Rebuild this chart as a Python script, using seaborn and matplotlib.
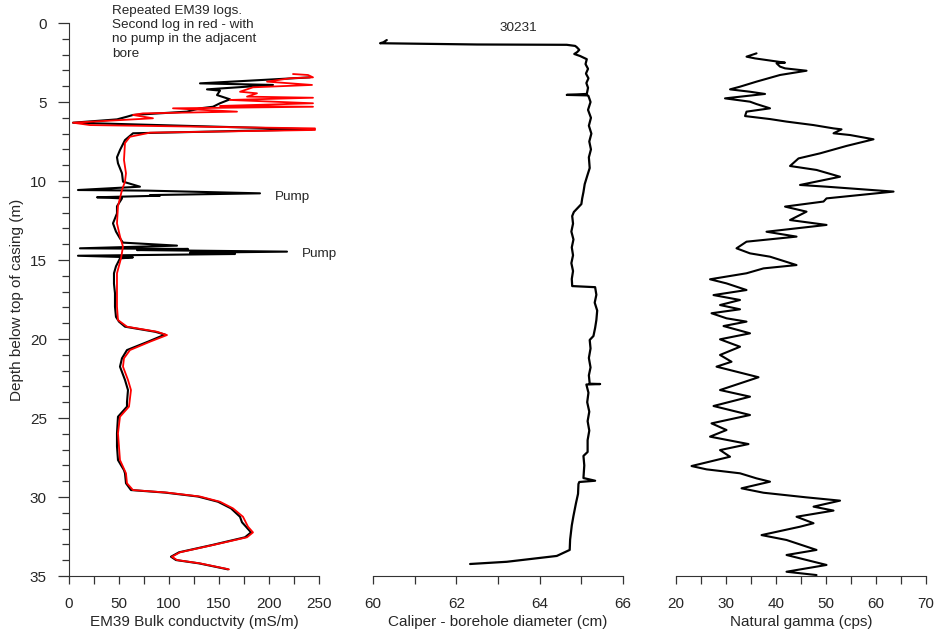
import matplotlib
matplotlib.use("Agg")
import matplotlib.pyplot as plt
from matplotlib.ticker import MultipleLocator
import seaborn as sns
import pandas as pd

# ---------------- data ----------------
# EM39 first log (black)
em1_depth = [3.44, 3.82, 3.92, 4.20, 4.28, 4.56, 4.83, 5.08, 5.30, 5.40, 5.61, 5.82, 5.93,
             6.10, 6.31, 6.73, 6.98, 7.41, 8.04, 8.50, 8.88, 9.51, 10.04, 10.36, 10.57,
             10.61, 10.78, 10.89, 10.93, 11.03, 11.10, 11.6, 12.05, 12.68, 13.2, 13.63,
             13.9, 14.09, 14.26, 14.30, 14.37, 14.47, 14.54, 14.62, 14.73, 14.83, 14.90,
             15.4, 15.84, 16.5, 17.1, 17.95, 18.6, 18.9, 19.22, 19.54, 19.72, 20.17, 20.7,
             21.22, 21.75, 22.59, 23.23, 24.0, 24.28, 24.92, 25.97, 26.8, 27.66, 28.3,
             28.5, 29.13, 29.56, 29.72, 29.97, 30.3, 30.72, 31.25, 31.6, 31.88, 32.24,
             32.55, 33.04, 33.5, 33.78, 33.99, 34.2, 34.58]
em1_val = [241, 131, 204, 138, 151, 148, 161, 151, 144, 131, 118, 64, 58,
           48, 4, 243, 64, 56, 51, 48, 49, 53, 54, 71, 9,
           79, 191, 81, 91, 28, 53, 48, 48, 44, 47, 51,
           54, 108, 11, 119, 68, 218, 121, 166, 9, 64, 51,
           47, 45, 45, 46, 46, 47, 50, 56, 86, 96, 79, 58,
           53, 51, 56, 59, 58, 58, 49, 48, 48, 49, 55,
           56, 57, 62, 96, 129, 149, 162, 171, 173, 177, 182,
           176, 143, 110, 102, 107, 130, 159]

# EM39 second log (red)
em2_depth = [3.23, 3.29, 3.44, 3.50, 3.71, 3.92, 4.07, 4.35, 4.45, 4.66, 4.73, 4.87, 5.08,
             5.25, 5.30, 5.40, 5.61, 5.72, 5.82, 6.03, 6.31, 6.46, 6.67, 6.77, 6.94, 7.2,
             7.6, 8.67, 9.51, 10.04, 10.57, 11.6, 12.68, 13.5, 14.16, 14.9, 15.84, 17.1,
             17.95, 18.8, 19.22, 19.54, 19.75, 20.17, 20.7, 21.22, 21.75, 22.59, 23.23,
             24.28, 24.92, 25.97, 27.66, 28.5, 29.13, 29.56, 29.72, 29.97, 30.3, 30.72,
             31.25, 31.88, 32.24, 32.55, 33.04, 33.5, 33.78, 33.99, 34.2, 34.58]
em2_val = [224, 239, 244, 221, 198, 243, 184, 171, 188, 178, 244, 161, 244,
           151, 244, 104, 168, 74, 64, 84, 4, 21, 246, 246, 81, 61,
           56, 55, 57, 56, 53, 49, 48, 51, 54, 52, 48, 48,
           48, 49, 58, 88, 98, 81, 61, 55, 54, 59, 62,
           60, 51, 49, 51, 57, 58, 64, 98, 131, 151, 164,
           174, 179, 184, 178, 144, 111, 103, 108, 131, 160]

# Caliper
cal_depth = [1.08, 1.22, 1.28, 1.36, 1.38, 1.45, 1.53, 1.70, 1.84, 1.96, 2.09, 2.29, 2.6,
             2.9, 3.2, 3.5, 3.8, 4.1, 4.49, 4.55, 4.58, 4.62, 5.0, 5.5, 6.0, 6.5, 7.0, 7.5,
             8.0, 8.5, 9.18, 9.68, 10.2, 10.7, 11.1, 11.46, 11.96, 12.22, 12.7, 13.2, 13.7,
             14.2, 14.7, 15.2, 15.7, 16.2, 16.65, 16.72, 17.2, 17.7, 18.2, 18.8, 19.3,
             19.81, 20.06, 20.6, 21.2, 21.8, 22.3, 22.83, 22.85, 22.88, 23.4, 24.0, 24.6,
             25.2, 25.8, 26.4, 27.15, 27.4, 28.0, 28.8, 28.97, 29.05, 29.18, 29.8, 30.4,
             31.2, 31.8, 32.7, 33.35, 33.73, 34.1, 34.24]
cal_val = [60.33, 60.25, 60.17, 62.5, 64.65, 64.85, 64.89, 64.95, 64.9, 64.83, 64.97, 65.13, 65.10,
           65.16, 65.11, 65.17, 65.12, 65.16, 65.13, 64.65, 65.15, 65.17, 65.22, 65.16, 65.23, 65.18, 65.24, 65.19,
           65.23, 65.18, 65.20, 65.14, 65.08, 65.05, 65.02, 65.0, 64.82, 64.78, 64.80, 64.76, 64.81,
           64.77, 64.80, 64.76, 64.80, 64.77, 64.78, 65.33, 65.36, 65.32, 65.38, 65.36, 65.33,
           65.29, 65.2, 65.22, 65.18, 65.22, 65.18, 65.2, 65.45, 65.12, 65.17, 65.14, 65.19,
           65.15, 65.19, 65.15, 65.15, 65.05, 65.07, 65.05, 65.33, 64.95, 64.93, 64.92, 64.87,
           64.81, 64.77, 64.73, 64.72, 64.41, 63.21, 62.33]

# Natural gamma
gam_depth = [1.92, 2.13, 2.24, 2.51, 2.55, 2.76, 2.87, 3.02, 3.29, 3.71, 4.03, 4.20, 4.35,
             4.49, 4.77, 4.98, 5.13, 5.40, 5.61, 5.89, 6.08, 6.24, 6.46, 6.67, 6.73, 6.98,
             7.09, 7.36, 7.78, 8.25, 8.57, 9.05, 9.30, 9.73, 10.25, 10.36, 10.67, 11.10,
             11.3, 11.62, 11.94, 12.47, 12.78, 13.21, 13.52, 13.84, 14.26, 14.58, 14.79,
             15.32, 15.53, 15.84, 16.22, 16.48, 16.90, 17.22, 17.53, 17.85, 18.12, 18.37,
             18.69, 18.90, 19.18, 19.64, 20.02, 20.49, 21.01, 21.44, 21.75, 22.42, 23.23,
             23.65, 24.24, 24.81, 25.34, 25.76, 26.18, 26.65, 27.03, 27.45, 28.04, 28.25,
             28.50, 28.82, 29.03, 29.45, 29.73, 30.02, 30.23, 30.61, 30.86, 31.25, 31.66,
             31.88, 32.41, 32.72, 33.35, 33.67, 34.30, 34.73, 34.94]
gam_val = [36.1, 34.1, 35.8, 41.8, 40.1, 40.8, 41.8, 46.1, 40.8, 36.1, 32.8, 30.8, 34.8,
           37.8, 29.8, 34.8, 36.1, 38.8, 34.1, 33.8, 38.8, 42.1, 47.5, 51.5, 53.1, 51.5,
           54.8, 59.5, 54.1, 48.8, 44.5, 42.8, 48.1, 52.8, 44.8, 50.1, 63.5, 50.1,
           49.5, 41.8, 46.1, 42.8, 50.1, 38.1, 44.1, 34.1, 32.1, 34.8, 38.8,
           44.1, 37.5, 34.1, 26.8, 30.1, 34.1, 27.5, 32.8, 28.8, 32.8, 27.1,
           30.1, 34.1, 29.5, 34.8, 28.8, 32.8, 28.8, 31.1, 28.1, 36.5, 28.8,
           34.8, 27.5, 34.8, 27.1, 30.1, 26.8, 34.5, 28.8, 30.8, 23.1, 26.1,
           32.8, 36.1, 38.8, 33.1, 37.5, 46.0, 52.8, 47.5, 51.5, 44.1, 47.5,
           44.8, 37.1, 42.1, 48.1, 42.1, 50.1, 42.1, 48.1]

em1 = pd.DataFrame({"depth": em1_depth, "val": em1_val})
em2 = pd.DataFrame({"depth": em2_depth, "val": em2_val})
cal = pd.DataFrame({"depth": cal_depth, "val": cal_val})
gam = pd.DataFrame({"depth": gam_depth, "val": gam_val})

# ---------------- style ----------------
sns.set_style("ticks")
plt.rcParams["font.family"] = ["Liberation Sans", "DejaVu Sans"]
plt.rcParams["font.size"] = 11
spine_col = "#333333"

fig = plt.figure(figsize=(9.41, 6.32), dpi=100)
bottom, height = 0.0886, 0.9636 - 0.0886
ax1 = fig.add_axes([0.0733, bottom, 0.2657, height])
ax2 = fig.add_axes([0.3964, bottom, 0.2657, height], sharey=ax1)
ax3 = fig.add_axes([0.7184, bottom, 0.2657, height], sharey=ax1)

sns.lineplot(data=em1, x="val", y="depth", sort=False, estimator=None,
             color="black", lw=1.5, ax=ax1)
sns.lineplot(data=em2, x="val", y="depth", sort=False, estimator=None,
             color="#ff0000", lw=1.3, ax=ax1)
sns.lineplot(data=cal, x="val", y="depth", sort=False, estimator=None,
             color="black", lw=1.6, ax=ax2)
sns.lineplot(data=gam, x="val", y="depth", sort=False, estimator=None,
             color="black", lw=1.5, ax=ax3)

ax1.set_ylim(35, 0)
ax1.yaxis.set_major_locator(MultipleLocator(5))
ax1.yaxis.set_minor_locator(MultipleLocator(1))

ax1.set_xlim(0, 250)
ax1.xaxis.set_major_locator(MultipleLocator(50))
ax1.xaxis.set_minor_locator(MultipleLocator(25))
ax2.set_xlim(60, 66)
ax2.xaxis.set_major_locator(MultipleLocator(2))
ax2.xaxis.set_minor_locator(MultipleLocator(1))
ax3.set_xlim(20, 70)
ax3.xaxis.set_major_locator(MultipleLocator(10))
ax3.xaxis.set_minor_locator(MultipleLocator(5))

ax1.set_xlabel("EM39 Bulk conductvity (mS/m)", fontsize=11, labelpad=3)
ax2.set_xlabel("Caliper - borehole diameter (cm)", fontsize=11, labelpad=3)
ax3.set_xlabel("Natural gamma (cps)", fontsize=11, labelpad=3)
ax1.set_ylabel("Depth below top of casing (m)", fontsize=11, labelpad=4)

for ax in (ax1, ax2, ax3):
    for s in ("top", "right"):
        ax.spines[s].set_visible(False)
    ax.spines["bottom"].set_color(spine_col)
    ax.spines["left"].set_color(spine_col)
    ax.tick_params(axis="x", which="major", length=6, width=0.9, color=spine_col,
                   labelsize=11, pad=9)
    ax.tick_params(axis="x", which="minor", length=6, width=0.9, color=spine_col)
    ax.set_facecolor("none")

ax1.tick_params(axis="y", which="major", length=8, width=0.9, color=spine_col,
                labelsize=11, pad=8)
ax1.tick_params(axis="y", which="minor", length=5, width=0.9, color=spine_col)

for ax in (ax2, ax3):
    ax.spines["left"].set_visible(False)
    ax.tick_params(axis="y", which="both", left=False, labelleft=False)
    ax.set_ylabel("")

# annotations
ax1.text(43, -1.15, "Repeated EM39 logs.\nSecond log in red - with\nno pump in the adjacent\nbore",
         fontsize=9.7, va="top", ha="left", linespacing=1.25, clip_on=False)
ax1.text(206, 11.0, "Pump", fontsize=9.7, va="center", ha="left")
ax1.text(233, 14.6, "Pump", fontsize=9.7, va="center", ha="left", clip_on=False)
ax2.text(63.48, 0.3, "30231", fontsize=9.7, va="center", ha="center", clip_on=False)

fig.savefig("out.png", dpi=100)
